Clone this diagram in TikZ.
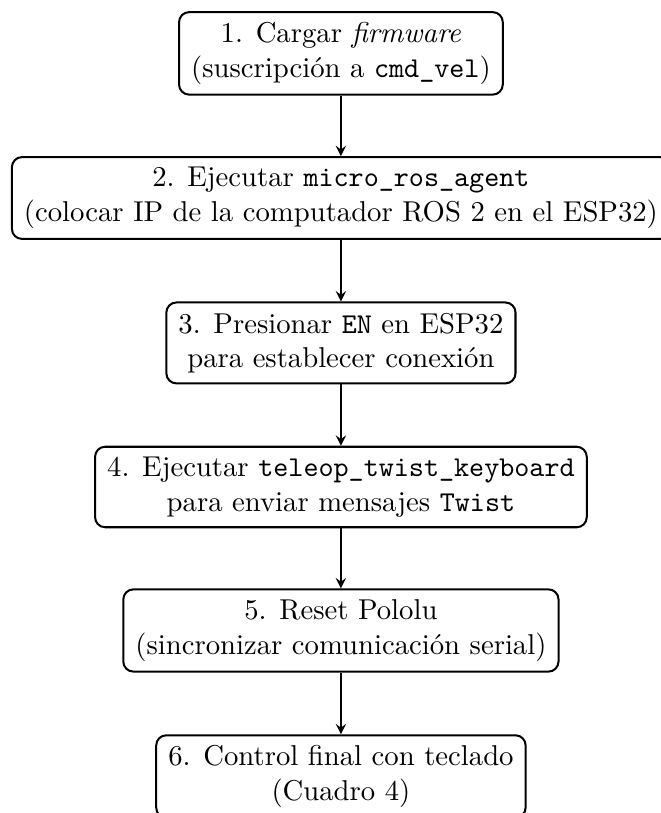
\documentclass[tikz,border=0pt]{standalone}
\usepackage{fontspec}
\begin{document}
\begin{tikzpicture}[x=1pt,y=1pt,
  stepbox/.style={draw, rounded corners=3.5pt, align=center, line width=0.7pt, inner xsep=4.2pt, inner ysep=3.6pt},
  arr/.style={-stealth, line width=0.6pt}]
\useasboundingbox (-118.8,18.6) rectangle (111.5,-264.7);
\clip (-118.8,18.6) rectangle (111.5,-264.7);
\node[stepbox] (s1) at (0,0) {1. Cargar \textit{firmware}\\(suscripción a \texttt{cmd\_vel})};
\node[stepbox] (s2) at (0,-50.4) {2. Ejecutar \texttt{micro\_ros\_agent}\\(colocar IP de la computador ROS 2 en el ESP32)};
\node[stepbox] (s3) at (0,-100.9) {3. Presionar \texttt{EN} en ESP32\\para establecer conexión};
\node[stepbox] (s4) at (0,-151.1) {4. Ejecutar \texttt{teleop\_twist\_keyboard}\\para enviar mensajes \texttt{Twist}};
\node[stepbox] (s5) at (0,-201.1) {5. Reset Pololu\\(sincronizar comunicación serial)};
\node[stepbox] (s6) at (0,-252) {6. Control final con teclado\\(Cuadro 4)};
\draw[arr] (s1) -- (s2);
\draw[arr] (s2) -- (s3);
\draw[arr] (s3) -- (s4);
\draw[arr] (s4) -- (s5);
\draw[arr] (s5) -- (s6);
\end{tikzpicture}
\end{document}
